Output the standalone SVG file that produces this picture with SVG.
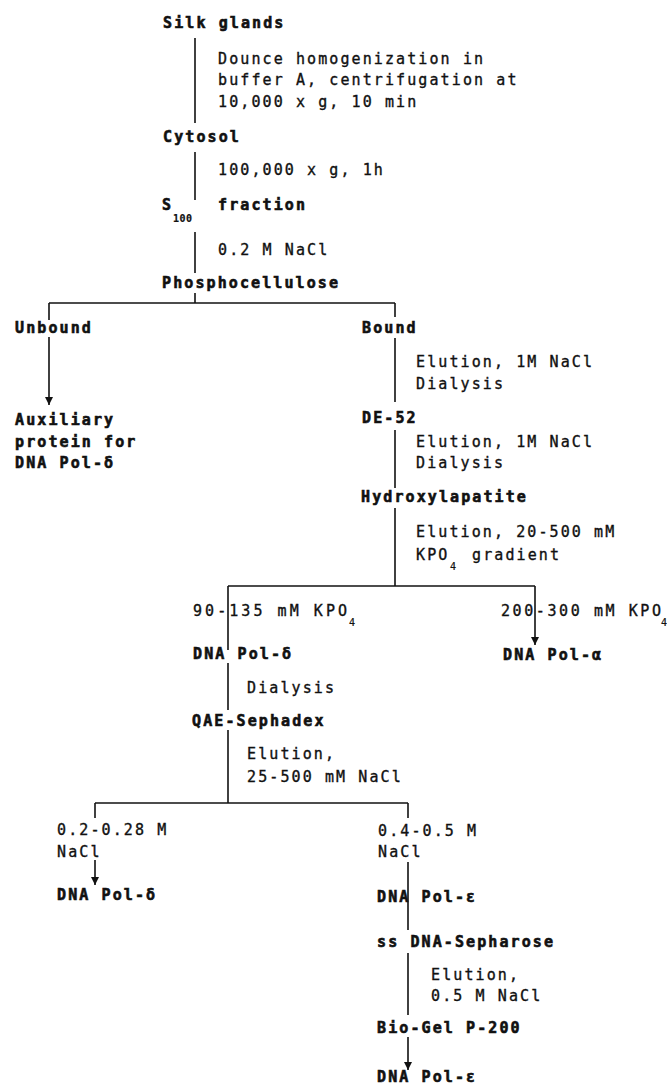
<svg xmlns="http://www.w3.org/2000/svg" width="667" height="1086" viewBox="0 0 667 1086">
<style>
text{font-family:"DejaVu Sans Mono","Liberation Mono",monospace;font-size:15px;letter-spacing:2.1px;fill:#111}
.n{font-weight:bold;stroke:#111;stroke-width:0.6}
.a{font-weight:normal;stroke:#111;stroke-width:0.35}
.sub{font-size:10px;letter-spacing:0.5px;stroke-width:0.2}
.c line{stroke:#111;stroke-width:1.6;fill:none}
</style>
<defs>
<marker id="ah" viewBox="0 0 8 8" refX="8" refY="4" markerWidth="8" markerHeight="8" markerUnits="userSpaceOnUse" orient="auto"><path d="M0,0 L8,4 L0,8 Z" fill="#111"/></marker>
</defs>
<rect width="667" height="1086" fill="#fff"/>
<g class="c" id="connectors">
<line x1="195" y1="38" x2="195" y2="123"/>
<line x1="195" y1="152" x2="195" y2="200"/>
<line x1="195" y1="232" x2="195" y2="273"/>
<line x1="195" y1="293" x2="195" y2="303"/>
<line x1="49" y1="303" x2="395" y2="303"/>
<line x1="49" y1="303" x2="49" y2="320"/>
<line x1="49" y1="337" x2="49" y2="405" marker-end="url(#ah)"/>
<line x1="395" y1="303" x2="395" y2="317"/>
<line x1="395" y1="338" x2="395" y2="402"/>
<line x1="395" y1="430" x2="395" y2="488"/>
<line x1="395" y1="508" x2="395" y2="586"/>
<line x1="228" y1="586" x2="535" y2="586"/>
<line x1="228" y1="586" x2="228" y2="650"/>
<line x1="535" y1="586" x2="535" y2="645" marker-end="url(#ah)"/>
<line x1="228" y1="663" x2="228" y2="710"/>
<line x1="228" y1="730" x2="228" y2="803"/>
<line x1="95" y1="803" x2="408" y2="803"/>
<line x1="95" y1="803" x2="95" y2="818"/>
<line x1="95" y1="860" x2="95" y2="885" marker-end="url(#ah)"/>
<line x1="408" y1="803" x2="408" y2="818"/>
<line x1="408" y1="862" x2="408" y2="930"/>
<line x1="408" y1="953" x2="408" y2="1015"/>
<line x1="408" y1="1037" x2="408" y2="1070" marker-end="url(#ah)"/>
</g>
<g id="silk"><text class="n" x="163" y="28">Silk glands</text></g>
<g id="step1"><text class="a" x="218" y="64">Dounce homogenization in</text><text class="a" x="218" y="85">buffer A, centrifugation at</text><text class="a" x="218" y="107">10,000 x g, 10 min</text></g>
<g id="cytosol"><text class="n" x="163" y="142">Cytosol</text></g>
<g id="step2"><text class="a" x="218" y="175">100,000 x g, 1h</text></g>
<g id="s100"><text class="n" x="162" y="210">S</text><text class="n sub" x="173" y="222">100</text><text class="n" x="218" y="210">fraction</text></g>
<g id="step3"><text class="a" x="218" y="255">0.2 M NaCl</text></g>
<g id="phospho"><text class="n" x="162" y="288">Phosphocellulose</text></g>
<g id="unbound"><text class="n" x="15" y="333">Unbound</text></g>
<g id="bound"><text class="n" x="362" y="333">Bound</text></g>
<g id="aux"><text class="n" x="15" y="425">Auxiliary</text><text class="n" x="15" y="447">protein for</text><text class="n" x="15" y="468">DNA Pol-δ</text></g>
<g id="step4"><text class="a" x="416" y="367">Elution, 1M NaCl</text><text class="a" x="416" y="389">Dialysis</text></g>
<g id="de52"><text class="n" x="362" y="423">DE-52</text></g>
<g id="step5"><text class="a" x="416" y="447">Elution, 1M NaCl</text><text class="a" x="416" y="468">Dialysis</text></g>
<g id="hydroxy"><text class="n" x="361" y="502">Hydroxylapatite</text></g>
<g id="step6"><text class="a" x="416" y="537">Elution, 20-500 mM</text><text class="a" x="416" y="560">KPO</text><text class="a sub" x="450" y="570">4</text><text class="a" x="472" y="560">gradient</text></g>
<g id="kpo-low"><text class="a" x="193" y="616" textLength="154" lengthAdjust="spacing" style="letter-spacing:0">90-135 mM KPO</text><text class="a sub" x="349" y="626">4</text></g>
<g id="kpo-high"><text class="a" x="501" y="616" textLength="160" lengthAdjust="spacing" style="letter-spacing:0">200-300 mM KPO</text><text class="a sub" x="661" y="626">4</text></g>
<g id="pol-delta1"><text class="n" x="193" y="659">DNA Pol-δ</text></g>
<g id="pol-alpha"><text class="n" x="503" y="660">DNA Pol-α</text></g>
<g id="step7"><text class="a" x="247" y="693">Dialysis</text></g>
<g id="qae"><text class="n" x="192" y="726">QAE-Sephadex</text></g>
<g id="step8"><text class="a" x="247" y="759">Elution,</text><text class="a" x="247" y="782">25-500 mM NaCl</text></g>
<g id="frac-low"><text class="a" x="57" y="835">0.2-0.28 M</text><text class="a" x="57" y="857">NaCl</text></g>
<g id="frac-high"><text class="a" x="378" y="836">0.4-0.5 M</text><text class="a" x="378" y="857">NaCl</text></g>
<g id="pol-delta2"><text class="n" x="57" y="900">DNA Pol-δ</text></g>
<g id="pol-eps1"><text class="n" x="377" y="902">DNA Pol-ε</text></g>
<g id="ssdna"><text class="n" x="377" y="947">ss DNA-Sepharose</text></g>
<g id="step9"><text class="a" x="431" y="980">Elution,</text><text class="a" x="431" y="1001">0.5 M NaCl</text></g>
<g id="biogel"><text class="n" x="377" y="1033">Bio-Gel P-200</text></g>
<g id="pol-eps2"><text class="n" x="377" y="1082">DNA Pol-ε</text></g>
</svg>
